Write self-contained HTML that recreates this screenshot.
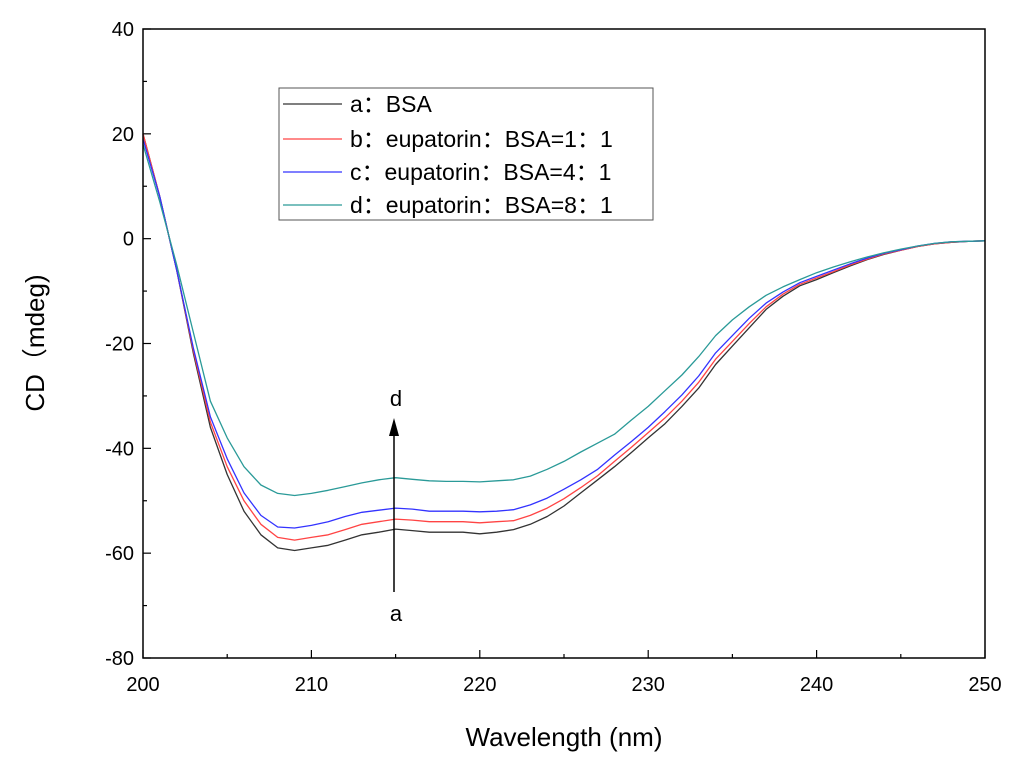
<!DOCTYPE html>
<html><head><meta charset="utf-8"><style>
body{margin:0;background:#fff}
svg text{font-family:"Liberation Sans","Noto Sans CJK SC",sans-serif;fill:#000}
</style></head><body>
<svg id="chart" width="1024" height="772" viewBox="0 0 1024 772" xmlns="http://www.w3.org/2000/svg">
<rect width="1024" height="772" fill="#fff"/>
<g id="ticks"></g>
<g id="series"></g>
<rect x="143" y="29" width="842" height="629" fill="none" stroke="#000" stroke-width="1.5"/>
<text x="564" y="746" font-size="26" text-anchor="middle">Wavelength (nm)</text>
<text transform="translate(44,343) rotate(-90)" font-size="26" text-anchor="middle">CD（mdeg)</text>
<g>
<rect x="279" y="88" width="374" height="132" fill="#fff" stroke="#555" stroke-width="1"/>
<line x1="283" y1="104" x2="342" y2="104" stroke="#333" stroke-width="1.2"/>
<text x="350" y="112" font-size="23">a：BSA</text>
<line x1="283" y1="139" x2="342" y2="139" stroke="#f44" stroke-width="1.2"/>
<text x="350" y="147" font-size="23">b：eupatorin：BSA=1：1</text>
<line x1="283" y1="172" x2="342" y2="172" stroke="#33f" stroke-width="1.2"/>
<text x="350" y="180" font-size="23">c：eupatorin：BSA=4：1</text>
<line x1="283" y1="205" x2="342" y2="205" stroke="#2a9a98" stroke-width="1.2"/>
<text x="350" y="213" font-size="23">d：eupatorin：BSA=8：1</text>
</g>
<g>
<line x1="394" y1="592" x2="394" y2="432" stroke="#000" stroke-width="1.5"/>
<polygon points="394,418 389,436 399,436" fill="#000"/>
<text x="396" y="406" font-size="22" text-anchor="middle">d</text>
<text x="396" y="621" font-size="22" text-anchor="middle">a</text>
</g>
</svg>
<script>
const wavelengths=[];for(let w=200;w<=250;w++)wavelengths.push(w);
const seriesA=[20,8,-6,-22,-36,-45,-52,-56.5,-59,-59.5,-59,-58.5,-57.5,-56.5,-56,-55.4,-55.7,-56,-56,-56,-56.3,-56,-55.5,-54.5,-53,-51,-48.5,-46,-43.5,-40.8,-38,-35.3,-32,-28.5,-24,-20.5,-17,-13.5,-11,-9,-7.8,-6.5,-5.2,-4,-3,-2.2,-1.5,-1,-0.7,-0.5,-0.4];
const seriesB=[20,8,-6,-21.5,-35,-43.5,-50,-54.5,-57,-57.5,-57,-56.5,-55.5,-54.5,-54,-53.5,-53.7,-54,-54,-54,-54.2,-54,-53.8,-52.8,-51.4,-49.6,-47.5,-45.2,-42.5,-39.8,-37,-34.2,-31,-27.4,-23,-19.6,-16.2,-13,-10.6,-8.7,-7.5,-6.3,-5,-3.9,-2.9,-2.2,-1.5,-1,-0.7,-0.5,-0.4];
const seriesC=[19,8,-6,-21,-34,-42,-48.5,-52.8,-55,-55.2,-54.7,-54,-53,-52.2,-51.8,-51.4,-51.6,-52,-52,-52,-52.1,-52,-51.7,-50.8,-49.5,-47.8,-46,-44,-41.3,-38.7,-36,-33,-29.8,-26.2,-21.8,-18.5,-15.2,-12.3,-10.2,-8.4,-7.2,-6,-4.8,-3.7,-2.8,-2.1,-1.4,-0.9,-0.6,-0.5,-0.4];
const seriesD=[18,7,-5,-18,-31,-38,-43.5,-47,-48.6,-49,-48.6,-48,-47.3,-46.6,-46,-45.6,-45.9,-46.2,-46.3,-46.3,-46.4,-46.2,-46,-45.3,-44,-42.5,-40.7,-39,-37.3,-34.6,-32,-29,-26,-22.5,-18.5,-15.5,-13,-10.8,-9.2,-7.8,-6.5,-5.4,-4.4,-3.5,-2.7,-2,-1.4,-0.9,-0.6,-0.5,-0.4];
const xTicks=[200,210,220,230,240,250];
const yTicks=[40,20,0,-20,-40,-60,-80];
const NS="http://www.w3.org/2000/svg";
const X0=143,X1=985,Y0=29,Y1=658;
function xs(w){return X0+(w-200)/50*(X1-X0);}
function ys(v){return Y0+(40-v)/120*(Y1-Y0);}
const tg=document.getElementById('ticks');
function mk(tag,attrs,parent){const e=document.createElementNS(NS,tag);for(const k in attrs)e.setAttribute(k,attrs[k]);parent.appendChild(e);return e;}
for(let w=200;w<=250;w+=5){
  const major=w%10===0;
  const l=mk('line',{x1:xs(w),x2:xs(w),y1:Y1,y2:Y1-(major?8:4),stroke:'#000','stroke-width':1.2},tg);
  
  
}
xTicks.forEach(w=>{
  const t=mk('text',{x:xs(w),y:Y1+33,'font-size':20,'text-anchor':'middle'},tg);
  t.textContent=w;
  
  
});
for(let v=40;v>=-80;v-=10){
  const major=v%20===0;
  const l=mk('line',{x1:X0,x2:X0+(major?8:4),y1:ys(v),y2:ys(v),stroke:'#000','stroke-width':1.2},tg);
  
  
}
yTicks.forEach(v=>{
  const t=mk('text',{x:X0-9,y:ys(v)+7,'font-size':20,'text-anchor':'end'},tg);
  t.textContent=v;
  
  
});
const sg=document.getElementById('series');
[[seriesA,'#333','series-a-bsa'],[seriesB,'#f44','series-b-ratio-1'],[seriesC,'#33f','series-c-ratio-4'],[seriesD,'#2a9a98','series-d-ratio-8']].forEach(([arr,col,name])=>{
  const d=arr.map((v,i)=>(i?'L':'M')+xs(wavelengths[i]).toFixed(1)+','+ys(v).toFixed(1)).join(' ');
  const p=mk('path',{d:d,fill:'none',stroke:col,'stroke-width':1.3,'stroke-linejoin':'round'},sg);
  
  
});
</script>
</body></html>
